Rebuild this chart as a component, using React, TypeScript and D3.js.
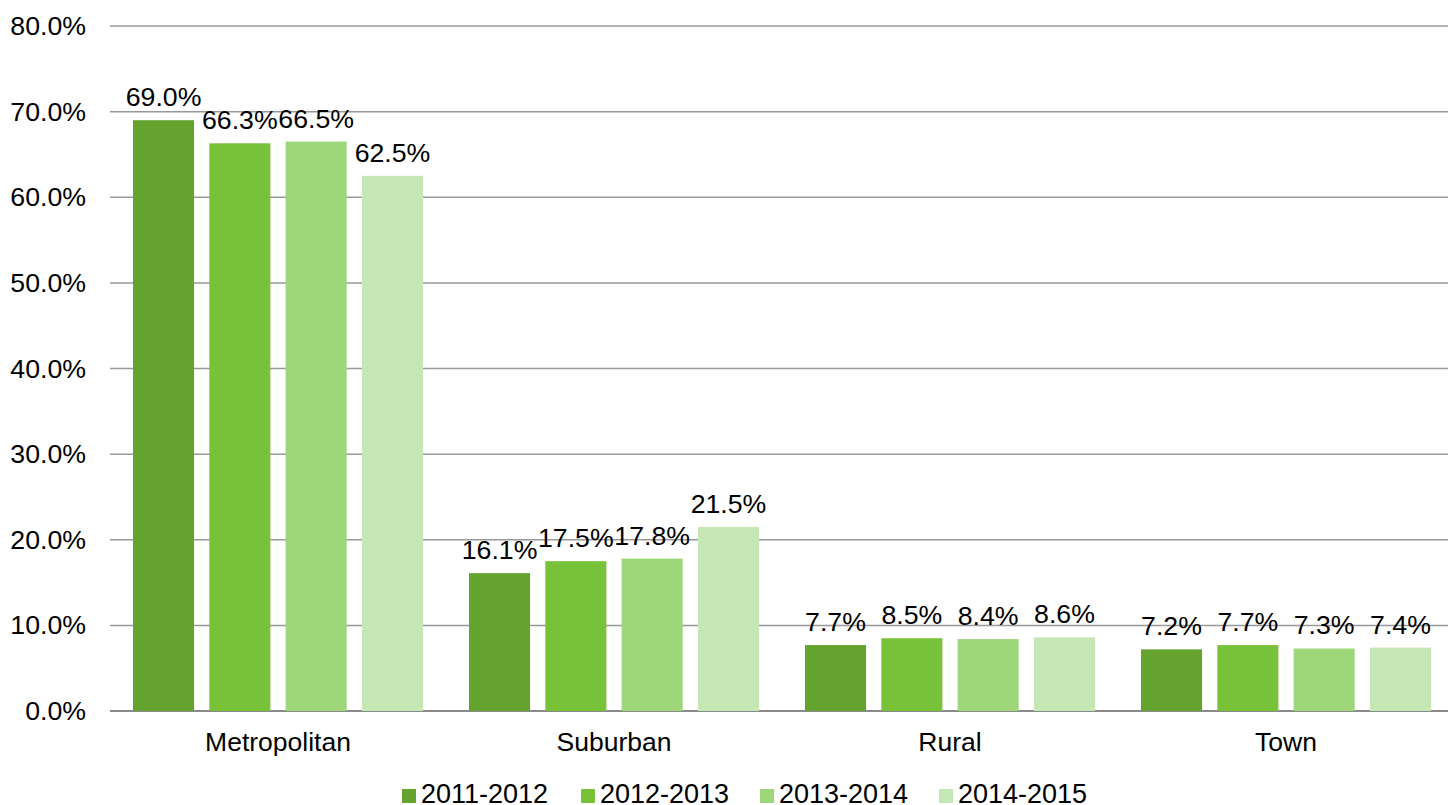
import * as d3 from "d3";

// chart data
const categories = ["Metropolitan", "Suburban", "Rural", "Town"];
const series = ["2011-2012", "2012-2013", "2013-2014", "2014-2015"];
const values2011 = [69.0, 16.1, 7.7, 7.2];
const values2012 = [66.3, 17.5, 8.5, 7.7];
const values2013 = [66.5, 17.8, 8.4, 7.3];
const values2014 = [62.5, 21.5, 8.6, 7.4];
const yTicks = [0, 10, 20, 30, 40, 50, 60, 70, 80];
const colors = ["#65a32e", "#78c23a", "#9ed77a", "#c5e6b5"];

const seriesValues = [values2011, values2012, values2013, values2014];

const W = 1448;
const H = 805;
const FONT = "'Liberation Sans', Arial, sans-serif";

export default function App() {
  // scales
  const x0 = d3.scaleBand().domain(categories).range([110, 1454]).padding(0);
  const x1 = d3.scaleBand().domain(series).range([0, 290]).paddingInner(0.2).paddingOuter(0);
  const groupOffset = (x0.bandwidth() - 290) / 2;
  const y = d3.scaleLinear().domain([0, 80]).range([711, 26]);

  const legendX = d3.scalePoint().domain(series).range([402, 939]);

  return (
    <svg
      width={W}
      height={H}
      style={{ position: "absolute", left: 0, top: 0, display: "block", background: "#fff" }}
      fontFamily={FONT}
    >
      {/* gridlines and tick labels */}
      {yTicks.map((t) => (
        <g key={t}>
          <line x1={110} x2={W} y1={y(t)} y2={y(t)} stroke={t === 0 ? "#8a8a8a" : "#999"} strokeWidth={t === 0 ? 2 : 1.5} />
          <text x={86} y={y(t) + 9} textAnchor="end" fontSize={26.7} fill="#000">
            {d3.format(".1f")(t) + "%"}
          </text>
        </g>
      ))}

      {/* bars */}
      {categories.map((c, ci) => (
        <g key={c} transform={`translate(${(x0(c) ?? 0) + groupOffset},0)`}>
          {series.map((s, si) => {
            const v = seriesValues[si][ci];
            const bx = x1(s) ?? 0;
            return (
              <g key={s}>
                <rect x={bx} y={y(v)} width={x1.bandwidth()} height={y(0) - y(v)} fill={colors[si]} />
                <text x={bx + x1.bandwidth() / 2} y={y(v) - 14} textAnchor="middle" fontSize={26.7} fill="#000">
                  {v.toFixed(1) + "%"}
                </text>
              </g>
            );
          })}
        </g>
      ))}

      {/* category labels */}
      {categories.map((c) => (
        <text key={c} x={(x0(c) ?? 0) + x0.bandwidth() / 2} y={751} textAnchor="middle" fontSize={26.5} fill="#000">
          {c}
        </text>
      ))}

      {/* legend */}
      {series.map((s, si) => (
        <g key={s} transform={`translate(${legendX(s)},0)`}>
          <rect x={0} y={789} width={14} height={14} fill={colors[si]} />
          <text x={19} y={803} fontSize={27} fill="#000">
            {s}
          </text>
        </g>
      ))}
    </svg>
  );
}
